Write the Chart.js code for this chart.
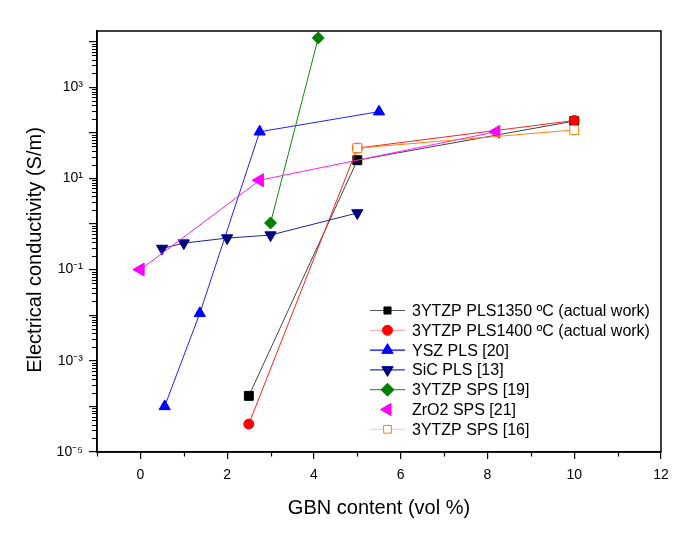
<!DOCTYPE html>
<html>
<head>
<meta charset="utf-8">
<script src="https://cdn.jsdelivr.net/npm/chart.js@4.4.0/dist/chart.umd.min.js"></script>
<style>
  html, body { margin: 0; padding: 0; background: #fff; }
</style>
</head>
<body>
<canvas id="chart" width="683" height="547"></canvas>
<script>
// values (x = GBN vol %, y = S/m)
const pls1350X = [2.5, 5, 10];
const pls1350Y = [1.7e-4, 25, 180];
const pls1400X = [2.5, 5, 10];
const pls1400Y = [4.1e-5, 46, 185];
const yszX = [0.56, 1.37, 2.75, 5.5];
const yszY = [1.0e-4, 0.011, 105, 290];
const sicX = [0.5, 1, 2, 3, 5];
const sicY = [0.29, 0.38, 0.49, 0.57, 1.74];
const sps19X = [3, 4.1];
const sps19Y = [1.05, 12000];
const zro2X = [0, 2.75, 8.2];
const zro2Y = [0.1, 9.1, 105];
const sps16X = [5, 10];
const sps16Y = [46, 115];

const seriesNames = [
  '3YTZP PLS1350 ºC (actual work)',
  '3YTZP PLS1400 ºC (actual work)',
  'YSZ PLS [20]',
  'SiC PLS [13]',
  '3YTZP SPS [19]',
  'ZrO2 SPS [21]',
  '3YTZP SPS [16]'
];

const xTicks = [0, 2, 4, 6, 8, 10, 12];
const yDecades = [-5, -4, -3, -2, -1, 0, 1, 2, 3, 4];

const toPoints = (xs, ys) => xs.map((x, i) => ({ x: x, y: ys[i] }));

const styles = [
  { color: '#000000', line: '#444444', legendLine: '#555555', point: 'rect', r: 6.3, rot: 0, fill: '#000000', lr: 5 },
  { color: '#ff0000', line: '#ff2020', legendLine: '#ffb0b0', point: 'circle', r: 5, rot: 0, fill: '#ff0000', lr: 5 },
  { color: '#0000ff', line: '#2020ff', legendLine: '#0000ff', point: 'triangle', r: 6.5, rot: 0, fill: '#0000ff', lr: 6.5 },
  { color: '#000080', line: '#202090', legendLine: '#3030a0', point: 'triangle', r: 6.5, rot: 180, fill: '#000080', lr: 6.5 },
  { color: '#008000', line: '#108a10', legendLine: '#40a040', point: 'rectRot', r: 6, rot: 0, fill: '#008000', lr: 6.5 },
  { color: '#ff00ff', line: '#ff20ff', legendLine: null, point: 'triangle', r: 7.5, rot: 270, fill: '#ff00ff', lr: 7 },
  { color: '#ff8000', line: '#ff8010', legendLine: '#ffd0d0', point: 'rect', r: 6.3, rot: 0, fill: '#ffffff', lr: 5.5 }
];

const seriesData = [
  toPoints(pls1350X, pls1350Y),
  toPoints(pls1400X, pls1400Y),
  toPoints(yszX, yszY),
  toPoints(sicX, sicY),
  toPoints(sps19X, sps19Y),
  toPoints(zro2X, zro2Y),
  toPoints(sps16X, sps16Y)
];

const datasets = seriesData.map((pts, i) => ({
  label: seriesNames[i],
  data: pts,
  showLine: true,
  borderColor: styles[i].line,
  borderWidth: 1,
  pointStyle: styles[i].point,
  pointRotation: styles[i].rot,
  pointRadius: styles[i].r,
  pointHoverRadius: styles[i].r,
  pointBackgroundColor: styles[i].fill,
  pointBorderColor: styles[i].color,
  pointBorderWidth: 1,
  order: -i
}));

const sup = { '-': '⁻', '0': '⁰', '1': '¹', '2': '²', '3': '³', '4': '⁴', '5': '⁵' };

const extras = {
  id: 'extras',
  afterDraw(chart) {
    const ctx = chart.ctx;
    const a = chart.chartArea;
    const xs = chart.scales.x, ys = chart.scales.y;
    ctx.save();
    // frame
    ctx.strokeStyle = '#000';
    ctx.lineWidth = 1.5;
    ctx.strokeRect(a.left, a.top, a.right - a.left, a.bottom - a.top);
    // minor ticks
    ctx.lineWidth = 1.2;
    ctx.beginPath();
    for (let v = -1; v <= 11; v += 2) {
      const px = Math.round(xs.getPixelForValue(v)) + 0.5;
      ctx.moveTo(px, a.bottom);
      ctx.lineTo(px, a.bottom + 4.5);
    }
    yDecades.forEach(d => {
      for (let m = 2; m <= 9; m++) {
        const v = m * Math.pow(10, d);
        if (v > ys.max) continue;
        const py = Math.round(ys.getPixelForValue(v)) + 0.5;
        ctx.moveTo(a.left, py);
        ctx.lineTo(a.left - 5, py);
      }
    });
    ctx.stroke();

    // y title
    ctx.fillStyle = '#000';
    ctx.font = "20px 'Liberation Sans', Arial, sans-serif";
    ctx.textAlign = 'center';
    ctx.textBaseline = 'middle';
    ctx.translate(35, 250);
    ctx.rotate(-Math.PI / 2);
    ctx.fillText('Electrical conductivity (S/m)', 0, 0);
    ctx.setTransform(1, 0, 0, 1, 0, 0);

    // legend
    const lx = 370, lw = 35, tx = 412;
    ctx.font = "16px 'Liberation Sans', Arial, sans-serif";
    ctx.textAlign = 'left';
    seriesNames.forEach((name, i) => {
      const y = 310.5 + i * 19.8;
      const s = styles[i];
      if (s.legendLine) {
        ctx.strokeStyle = s.legendLine;
        ctx.lineWidth = 1.2;
        ctx.beginPath();
        ctx.moveTo(lx, y);
        ctx.lineTo(lx + lw, y);
        ctx.stroke();
      }
      ctx.fillStyle = s.fill;
      ctx.strokeStyle = s.color;
      ctx.lineWidth = 1;
      Chart.helpers.drawPoint(ctx, { pointStyle: s.point, rotation: s.rot, radius: s.lr, borderWidth: 1 }, lx + lw / 2, y);
      ctx.fillStyle = '#000';
      ctx.fillText(name, tx, y + 1);
    });
    ctx.restore();
  }
};

Chart.defaults.font.family = "'Liberation Sans', Arial, sans-serif";
Chart.defaults.color = '#000';

new Chart(document.getElementById('chart'), {
  type: 'scatter',
  data: { datasets: datasets },
  options: {
    responsive: false,
    animation: false,
    layout: { padding: { top: 31, right: 22, left: 0, bottom: 0 } },
    plugins: {
      legend: { display: false },
      tooltip: { enabled: false }
    },
    scales: {
      x: {
        type: 'linear',
        min: -1,
        max: 12,
        afterBuildTicks: s => { s.ticks = xTicks.map(v => ({ value: v })); },
        afterFit: s => { s.height = 95; },
        ticks: { font: { size: 14 }, padding: 8, maxRotation: 0, autoSkip: false },
        grid: { drawOnChartArea: false, drawTicks: true, tickLength: 7, color: '#000', lineWidth: 1.2 },
        border: { display: true, color: '#000', width: 1.5 },
        title: { display: true, text: 'GBN content (vol %)', font: { size: 20 }, padding: { top: 0, bottom: 27 } }
      },
      y: {
        type: 'logarithmic',
        min: 1e-5,
        max: 1.7e4,
        afterBuildTicks: s => { s.ticks = yDecades.map(d => ({ value: Math.pow(10, d) })); },
        afterFit: s => { s.width = 97; },
        ticks: {
          font: { size: 14 },
          padding: 6,
          autoSkip: false,
          callback: v => {
            const e = Math.round(Math.log10(v));
            if (Math.abs(e) % 2 !== 1) return '';
            return '10' + String(e).split('').map(c => sup[c]).join('');
          }
        },
        grid: { drawOnChartArea: false, drawTicks: true, tickLength: 8, color: '#000', lineWidth: 1.2 },
        border: { display: true, color: '#000', width: 1.5 }
      }
    }
  },
  plugins: [extras]
});
</script>
</body>
</html>
